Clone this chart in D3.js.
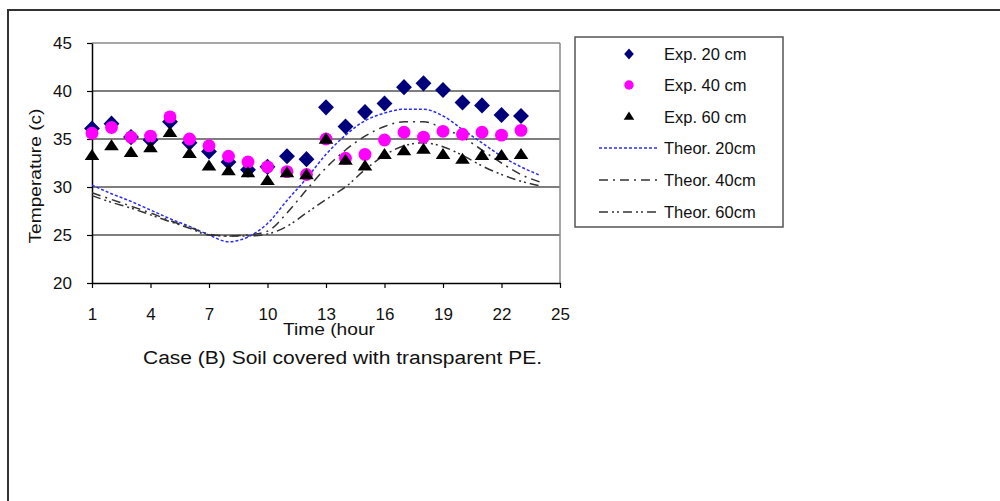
<!DOCTYPE html>
<meta charset="utf-8">
<script src="https://d3js.org/d3.v7.min.js"></script>
<style>
  body { margin: 0; background: #fff; }
  text { font-family: Arial, "Liberation Sans", sans-serif; fill: #111; }
</style>
<svg id="chart" width="1000" height="501"></svg>
<script>
// hours of the measurements / theory
var hours = d3.range(1, 24);       // 1..23 (experiments)
var hoursTheor = d3.range(1, 25);  // 1..24 (theory)

var exp20 = [36.1, 36.6, 35.2, 34.9, 36.8, 34.6, 33.7, 32.6, 31.8, 32.1, 33.2, 32.9,
             38.3, 36.3, 37.8, 38.7, 40.4, 40.8, 40.1, 38.8, 38.5, 37.5, 37.4];
var exp40 = [35.6, 36.2, 35.2, 35.3, 37.3, 35.0, 34.3, 33.2, 32.6, 32.1, 31.6, 31.3,
             35.0, 33.0, 33.4, 34.9, 35.7, 35.2, 35.8, 35.5, 35.7, 35.4, 35.9];
var exp60 = [33.2, 34.2, 33.5, 34.0, 35.6, 33.4, 32.1, 31.6, 31.4, 30.6, 31.4, 31.2,
             34.9, 32.7, 32.1, 33.3, 33.7, 33.85, 33.3, 32.8, 33.2, 33.2, 33.3];

// theoretical curves
var theor20 = [30.2, 29.3, 28.5, 27.6, 26.7, 25.9, 25.0, 24.3, 24.8, 26.2, 28.6, 30.9,
               33.4, 35.4, 36.9, 37.7, 38.1, 38.1, 37.4, 36.0, 34.6, 33.2, 32.1, 31.2];
var theor40 = [29.4, 28.7, 28.0, 27.3, 26.5, 25.8, 25.1, 24.9, 25.0, 25.4, 27.3, 29.7,
               32.0, 33.85, 35.3, 36.3, 36.8, 36.8, 36.1, 35.2, 33.85, 32.5, 31.3, 30.5];
var theor60 = [29.1, 28.4, 27.8, 27.1, 26.4, 25.7, 25.0, 24.9, 24.9, 25.1, 25.9, 27.3,
               28.7, 30.0, 31.8, 33.3, 34.3, 34.6, 34.2, 33.3, 32.2, 31.3, 30.6, 30.1];

var xTicks = [1, 4, 7, 10, 13, 16, 19, 22, 25];
var yTicks = [20, 25, 30, 35, 40, 45];

var svg = d3.select("#chart");

// outer frame of the figure
svg.append("rect")
    .attr("x", 8).attr("y", 10)
    .attr("width", 1000).attr("height", 600)
    .attr("fill", "none")
    .attr("stroke", "#333")
    .attr("stroke-width", 2);

var x = d3.scaleLinear().domain([1, 25]).range([92, 560]);
var y = d3.scaleLinear().domain([20, 45]).range([283, 43]);

// grid lines
svg.append("g")
    .selectAll("line")
    .data(yTicks.filter(function(d) { return d > 20; }))
    .enter().append("line")
    .attr("x1", x(1)).attr("x2", x(25))
    .attr("y1", function(d) { return y(d); })
    .attr("y2", function(d) { return y(d); })
    .attr("stroke", function(d) { return d == 45 ? "#888" : "#555"; })
    .attr("stroke-width", 1.5);

// right border of the plot area
svg.append("line")
    .attr("x1", x(25)).attr("x2", x(25))
    .attr("y1", y(45)).attr("y2", y(20))
    .attr("stroke", "#888")
    .attr("stroke-width", 1.5);

// axes
var xAxis = svg.append("g")
    .attr("transform", "translate(0," + y(20) + ")")
    .call(d3.axisBottom(x).tickValues(xTicks).tickSize(5).tickPadding(20).tickSizeOuter(0));
var yAxis = svg.append("g")
    .attr("transform", "translate(" + x(1) + ",0)")
    .call(d3.axisLeft(y).tickValues(yTicks).tickSize(5).tickPadding(15).tickSizeOuter(0));

[xAxis, yAxis].forEach(function(a) {
    a.select(".domain").attr("stroke", "#000").attr("stroke-width", 1.5);
    a.selectAll(".tick line").attr("stroke", "#000").attr("stroke-width", 1.2);
    a.selectAll(".tick text")
        .attr("fill", "#111")
        .style("font-size", "17px")
        .style("font-family", "Arial, 'Liberation Sans', sans-serif");
});

// theoretical lines
var lineGen = d3.line()
    .x(function(d) { return x(d[0]); })
    .y(function(d) { return y(d[1]); })
    .curve(d3.curveMonotoneX);

var theorSeries = [
    { name: "Theor. 20cm", values: theor20, color: "#2b2bff", dash: "3,2" },
    { name: "Theor. 40cm", values: theor40, color: "#333", dash: "9,5,2,5" },
    { name: "Theor. 60cm", values: theor60, color: "#333", dash: "9,4,2,3,2,4" }
];

svg.append("g")
    .selectAll("path")
    .data(theorSeries)
    .enter().append("path")
    .attr("fill", "none")
    .attr("stroke", function(d) { return d.color; })
    .attr("stroke-width", 1.5)
    .attr("stroke-dasharray", function(d) { return d.dash; })
    .attr("d", function(d) {
        return lineGen(d.values.map(function(v, i) { return [hoursTheor[i], v]; }));
    });

// experimental markers
var diamond = d3.symbol().type(d3.symbolDiamond);
var circle = d3.symbol().type(d3.symbolCircle);
var triangle = d3.symbol().type(d3.symbolTriangle);

function drawPoints(values, sym, size, color, sx, sy) {
    svg.append("g")
        .selectAll("path")
        .data(values)
        .enter().append("path")
        .attr("d", sym.size(size))
        .attr("fill", color)
        .attr("transform", function(d, i) {
            return "translate(" + x(hours[i]) + "," + y(d) + ") scale(" + sx + "," + sy + ")";
        });
}

drawPoints(exp20, diamond, 75, "#00007a", 1.7, 1.0);
drawPoints(exp40, circle, 130, "#ff00ff", 1, 1);
drawPoints(exp60, triangle, 70, "#000", 1.15, 1.0);

// axis titles
svg.append("text")
    .attr("transform", "translate(41,176) rotate(-90)")
    .attr("text-anchor", "middle")
    .style("font-size", "17px")
    .attr("textLength", 135)
    .attr("lengthAdjust", "spacingAndGlyphs")
    .text("Temperature (c)");

// the original title is cut off and sits right under the tick labels
svg.append("text")
    .attr("x", 283).attr("y", 335)
    .style("font-size", "17px")
    .attr("textLength", 92)
    .attr("lengthAdjust", "spacingAndGlyphs")
    .text("Time (hour");

svg.append("text")
    .attr("x", 143).attr("y", 364)
    .style("font-size", "18px")
    .attr("textLength", 399)
    .attr("lengthAdjust", "spacingAndGlyphs")
    .text("Case (B) Soil covered with transparent PE.");

// legend
var legend = svg.append("g");
legend.append("rect")
    .attr("x", 575).attr("y", 37)
    .attr("width", 208).attr("height", 190)
    .attr("fill", "#fff")
    .attr("stroke", "#555")
    .attr("stroke-width", 1.5);

var legendRows = [54, 85, 117, 148, 180, 212];
var markerItems = [
    { name: "Exp. 20 cm", sym: diamond, size: 36, color: "#00007a", sx: 1.5 },
    { name: "Exp. 40 cm", sym: circle, size: 70, color: "#ff00ff", sx: 1 },
    { name: "Exp. 60 cm", sym: triangle, size: 40, color: "#000", sx: 1.1 }
];

markerItems.forEach(function(m, i) {
    legend.append("path")
        .attr("d", m.sym.size(m.size))
        .attr("fill", m.color)
        .attr("transform", "translate(629," + legendRows[i] + ") scale(" + m.sx + ",1)");
    legend.append("text")
        .attr("x", 664).attr("y", legendRows[i] + 6)
        .style("font-size", "16.5px")
        .text(m.name);
});

theorSeries.forEach(function(s, i) {
    var ry = legendRows[i + 3];
    legend.append("line")
        .attr("x1", 599).attr("x2", 658)
        .attr("y1", ry).attr("y2", ry)
        .attr("stroke", s.color)
        .attr("stroke-width", 1.5)
        .attr("stroke-dasharray", s.dash);
    legend.append("text")
        .attr("x", 664).attr("y", ry + 6)
        .style("font-size", "16.5px")
        .text(s.name);
});
</script>
